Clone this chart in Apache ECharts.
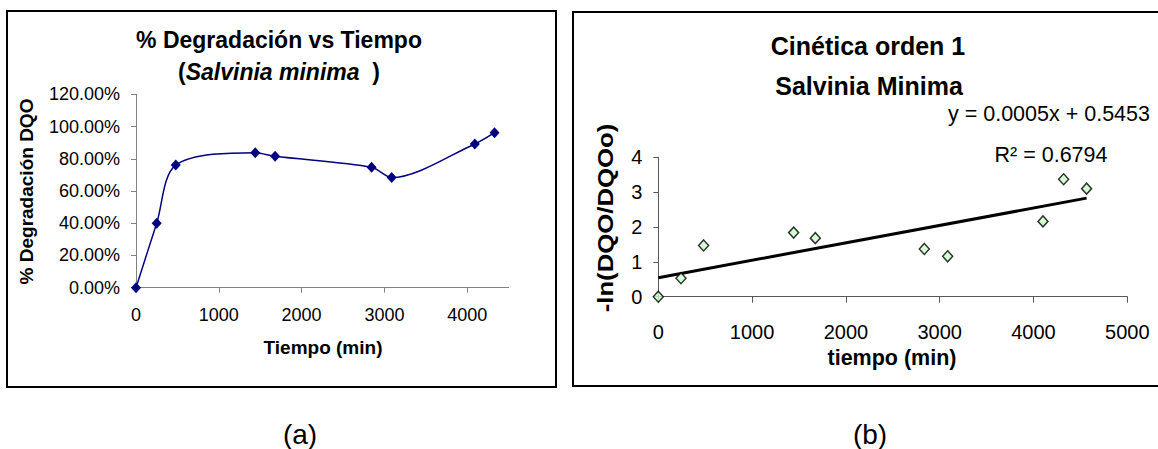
<!DOCTYPE html>
<html>
<head>
<meta charset="utf-8">
<script src="https://cdn.jsdelivr.net/npm/echarts@6/dist/echarts.min.js"></script>
<style>
  html, body { margin: 0; padding: 0; background: #fff; }
  #chart { width: 1158px; height: 449px; }
</style>
</head>
<body>
<div id="chart"></div>
<script>
// (a) % degradación de DQO en el tiempo
const tiempoA = [0, 250, 480, 1440, 1680, 2845, 3088, 4092, 4330];
const degradacionA = [0, 0.40, 0.761, 0.838, 0.815, 0.747, 0.683, 0.892, 0.962];
const ticksXA = [0, 1000, 2000, 3000, 4000];

// (b) cinética de orden 1: -ln(DQO/DQOo)
const tiempoB = [0, 242, 483, 1443, 1674, 2836, 3085, 4101, 4321, 4566];
const lnB = [0, 0.53, 1.47, 1.84, 1.68, 1.37, 1.16, 2.16, 3.37, 3.10];
const pendiente = 0.0005;
const intercepto = 0.5453;
const r2 = 0.6794;

const FONT = 'Liberation Sans, Arial, sans-serif';

// recta de ajuste a lo largo del rango de datos
const xMin = Math.min(...tiempoB), xMax = Math.max(...tiempoB);
const ajuste = [[xMin, pendiente * xMin + intercepto], [xMax, pendiente * xMax + intercepto]];

const chart = echarts.init(document.getElementById('chart'), null, { renderer: 'svg' });

const txt = (x, y, text, size, weight, extra) => {
  extra = extra || {};
  return {
    type: 'text', x: x, y: y, silent: true,
    rotation: extra.rotation || 0,
    scaleX: extra.scaleX || 1,
    style: Object.assign({
      text: text, fontFamily: FONT, fontSize: size, fontWeight: weight || 'normal',
      fill: '#000', textAlign: 'center', textVerticalAlign: 'middle'
    }, extra.style || {})
  };
};

const plain = v => String(v);

chart.setOption({
  animation: false,
  backgroundColor: '#fff',
  grid: [
    { left: 136, top: 94.3, width: 372.6, height: 193.4 },
    { left: 658.3, top: 157.3, width: 469, height: 139.4 }
  ],
  xAxis: [
    {
      gridIndex: 0, type: 'value', min: 0, max: 4500, interval: 500,
      axisLine: { show: true, lineStyle: { color: '#808080', width: 1 } },
      axisTick: { show: true, length: 5, customValues: ticksXA, lineStyle: { color: '#808080' } },
      axisLabel: { customValues: ticksXA, margin: 18, fontSize: 18, fontFamily: FONT, color: '#000', formatter: plain },
      splitLine: { show: false }
    },
    {
      gridIndex: 1, type: 'value', min: 0, max: 5000, interval: 1000,
      axisLine: { show: true, lineStyle: { color: '#595959', width: 1 } },
      axisTick: { show: true, length: 6, lineStyle: { color: '#595959' } },
      axisLabel: { margin: 25, fontSize: 20, fontFamily: FONT, color: '#000', formatter: plain },
      splitLine: { show: false }
    }
  ],
  yAxis: [
    {
      gridIndex: 0, type: 'value', min: 0, max: 1.2, interval: 0.2,
      axisLine: { show: true, lineStyle: { color: '#808080', width: 1 } },
      axisTick: { show: true, length: 5, lineStyle: { color: '#808080' } },
      axisLabel: {
        margin: 16, fontSize: 18, fontFamily: FONT, color: '#000',
        formatter: v => (v * 100).toFixed(2) + '%'
      },
      splitLine: { show: false }
    },
    {
      gridIndex: 1, type: 'value', min: 0, max: 4, interval: 1,
      axisLine: { show: true, lineStyle: { color: '#595959', width: 1 } },
      axisTick: { show: true, length: 5, lineStyle: { color: '#595959' } },
      axisLabel: { margin: 16, fontSize: 20, fontFamily: FONT, color: '#000', formatter: plain },
      splitLine: { show: false }
    }
  ],
  series: [
    {
      name: '% Degradación', type: 'line', xAxisIndex: 0, yAxisIndex: 0,
      data: tiempoA.map((t, i) => [t, degradacionA[i]]),
      smooth: 0.3,
      lineStyle: { color: '#000080', width: 1.5 },
      symbol: 'diamond', symbolSize: [10, 11],
      itemStyle: { color: '#000080' }
    },
    {
      name: 'Ajuste lineal', type: 'line', xAxisIndex: 1, yAxisIndex: 1,
      data: ajuste, symbol: 'none', z: 2,
      lineStyle: { color: '#000', width: 3 }
    },
    {
      name: '-ln(DQO/DQOo)', type: 'scatter', xAxisIndex: 1, yAxisIndex: 1,
      data: tiempoB.map((t, i) => [t, lnB[i]]), z: 3,
      symbol: 'diamond', symbolSize: [10, 11],
      itemStyle: { color: '#ccffcc', borderColor: '#000', borderWidth: 1.5 }
    }
  ],
  graphic: [
    // marcos de cada gráfico
    { type: 'rect', silent: true, shape: { x: 7, y: 11, width: 549, height: 376 },
      style: { fill: 'none', stroke: '#000', lineWidth: 2 } },
    { type: 'rect', silent: true, shape: { x: 573, y: 12, width: 600, height: 374 },
      style: { fill: 'none', stroke: '#000', lineWidth: 2 } },

    // (a)
    txt(279, 40, '% Degradación vs Tiempo', 23, 'bold'),
    {
      type: 'text', x: 279, y: 71.5, silent: true,
      style: {
        text: '{b|(}{i|Salvinia minima}{b|  )}',
        textAlign: 'center', textVerticalAlign: 'middle',
        rich: {
          b: { fontFamily: FONT, fontSize: 23, fontWeight: 'bold', fill: '#000' },
          i: { fontFamily: FONT, fontSize: 23, fontWeight: 'bold', fontStyle: 'italic', fill: '#000' }
        }
      }
    },
    txt(26, 191.5, '% Degradación DQO', 19, 'bold', { rotation: Math.PI / 2 }),
    txt(323, 347.5, 'Tiempo (min)', 19, 'bold'),

    // (b)
    txt(868, 46, 'Cinética orden 1', 25, 'bold'),
    txt(869, 86, 'Salvinia Minima', 25, 'bold'),
    txt(1150, 114, 'y = ' + pendiente.toFixed(4) + 'x + ' + intercepto.toFixed(4), 21.5, 'normal',
      { style: { textAlign: 'right' } }),
    txt(1051, 154.5, 'R² = ' + r2.toFixed(4), 21.5, 'normal'),
    txt(605.5, 218, '-ln(DQO/DQOo)', 22, 'bold', { rotation: Math.PI / 2, scaleX: 1.17 }),
    txt(892, 358, 'tiempo (min)', 21.5, 'bold'),

    // rótulos de los paneles
    txt(300, 434, '(a)', 28, 'normal'),
    txt(870, 434, '(b)', 28, 'normal')
  ]
});
</script>
</body>
</html>
